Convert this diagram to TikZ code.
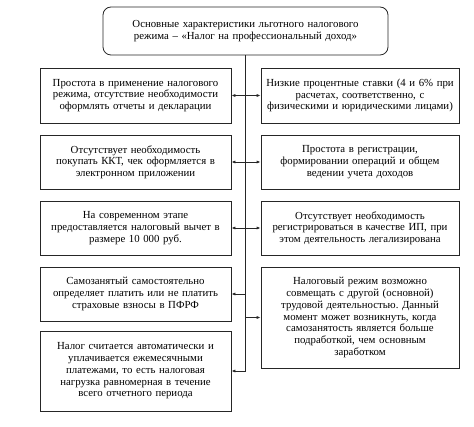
\documentclass[tikz,border=0pt]{standalone}
\usepackage{fontspec}
\setmainfont{Liberation Serif}
\usetikzlibrary{arrows.meta}
\frenchspacing
\begin{document}
\begin{tikzpicture}[x=1pt,y=-1pt,
  box/.style={draw=black!85, line width=0.8pt, align=center, inner sep=1pt,
    font=\fontsize{10.8}{11.7}\selectfont},
  lbox/.style={box, minimum width=191pt, text width=189pt},
  rbox/.style={box, minimum width=198pt, text width=196pt},
  conn/.style={draw=black!85, line width=0.8pt},
  tip/.style={-{Latex[length=4pt,width=3.2pt]}},
  dtip/.style={{Latex[length=4pt,width=3.2pt]}-{Latex[length=4pt,width=3.2pt]}}]
\useasboundingbox (0,0) rectangle (474,427);
\node[box, rounded corners=8pt, minimum width=285pt, minimum height=48pt, text width=283pt] (top) at (245.5,31)
  {Основные характеристики льготного налогового\\режима – «Налог на профессиональный доход»};
\node[lbox, minimum height=55pt] (l1) at (135.5,95.5)
  {Простота в применение налогового\\режима, отсутствие необходимости\\оформлять отчеты и декларации};
\node[rbox, minimum height=55pt] (r1) at (360,95.5)
  {Низкие процентные ставки (4 и 6\% при\\расчетах, соответственно, с\\физическими и юридическими лицами)};
\node[lbox, minimum height=54pt] (l2) at (135.5,162)
  {Отсутствует необходимость\\покупать ККТ, чек оформляется в\\электронном приложении};
\node[rbox, minimum height=54pt] (r2) at (360,162)
  {Простота в регистрации,\\формировании операций и общем\\ведении учета доходов};
\node[lbox, minimum height=54pt] (l3) at (135.5,228)
  {На современном этапе\\предоставляется налоговый вычет в\\размере 10 000 руб.};
\node[rbox, minimum height=54pt] (r3) at (360,228)
  {Отсутствует необходимость\\регистрироваться в качестве ИП, при\\этом деятельность легализирована};
\node[lbox, minimum height=54pt] (l4) at (135.5,294)
  {Самозанятый самостоятельно\\определяет платить или не платить\\страховые взносы в ПФРФ};
\node[rbox, minimum height=101pt] (r4) at (360,317.5)
  {Налоговый режим возможно\\совмещать с другой (основной)\\трудовой деятельностью. Данный\\момент может возникнуть, когда\\самозанятость является больше\\подработкой, чем основным\\заработком};
\node[lbox, minimum height=80pt] (l5) at (135.5,371)
  {Налог считается автоматически и\\уплачивается ежемесячными\\платежами, то есть налоговая\\нагрузка равномерная в течение\\всего отчетного периода};
\coordinate (bot) at (245.5,371);
\coordinate (rj) at (245.5,317.5);
\draw[conn] (top.south) -- (bot);
\draw[conn,dtip] (l1.east) -- (r1.west);
\draw[conn,dtip] (l2.east) -- (r2.west);
\draw[conn,dtip] (l3.east) -- (r3.west);
\draw[conn,tip] (top.south |- l4.east) -- (l4.east);
\draw[conn,tip] (rj) -- (r4.west);
\draw[conn,tip] (bot) -- (l5.east);
\end{tikzpicture}
\end{document}
